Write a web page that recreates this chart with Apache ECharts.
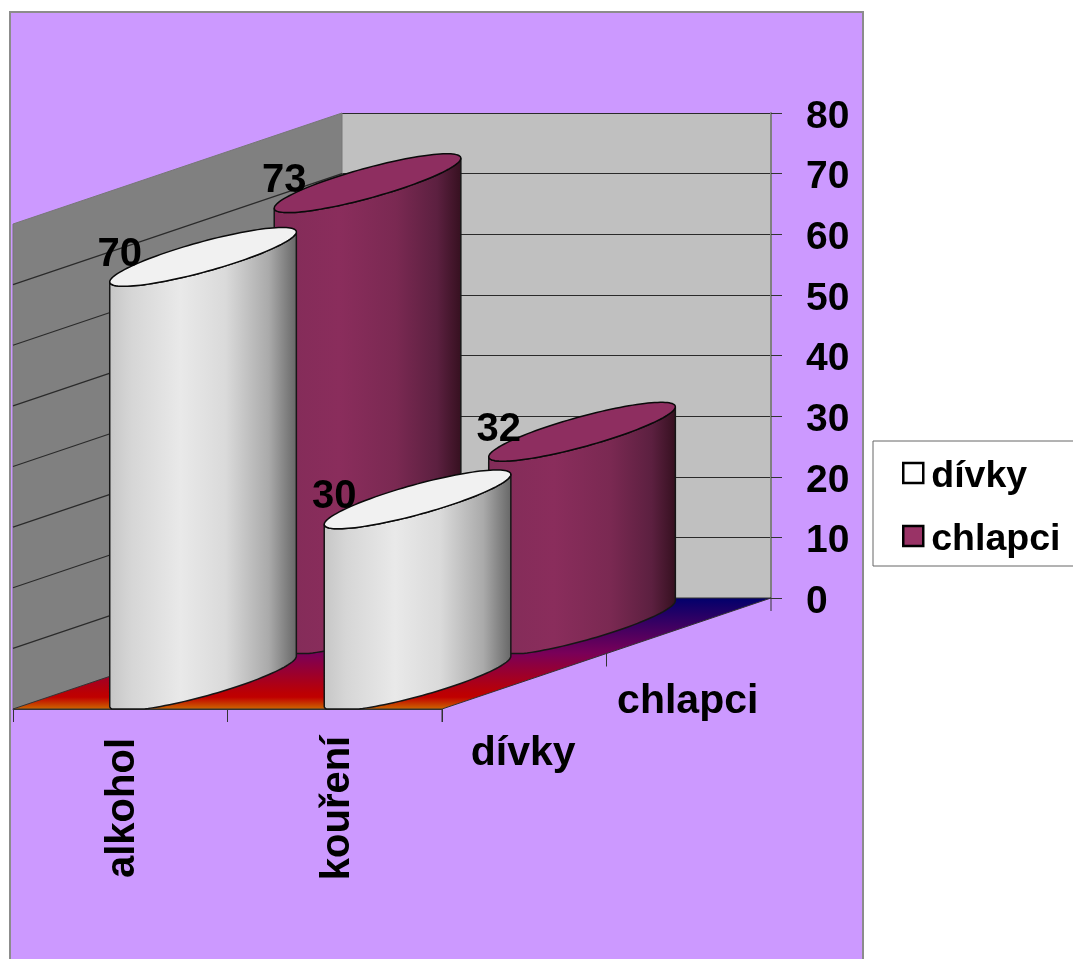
<!DOCTYPE html>
<html>
<head>
<meta charset="utf-8">
<title>alkohol a kouření</title>
<script src="https://cdn.jsdelivr.net/npm/echarts@6/dist/echarts.min.js"></script>
<style>
html,body{margin:0;padding:0;background:#fff;overflow:hidden}
#chart{width:1073px;height:959px}
</style>
</head>
<body>
<div id="chart"></div>
<script>
// Chart data
const categories = ['alkohol', 'kouření'];
const rowNames = ['dívky', 'chlapci'];
const divkyValues = [70, 30];
const chlapciValues = [73, 32];
const valueTicks = [0, 10, 20, 30, 40, 50, 60, 70, 80];

// Oblique projection: the back wall is the cartesian grid, rows come forward from it
const FONT = '"Liberation Sans", Arial, sans-serif';
const DEPTH_SHIFT_X = -329, DEPTH_SHIFT_Y = 111;
const ROWS = rowNames.length;

function project(api, cat, depth, value) {
  const p = api.coord([cat, value]);
  const f = (ROWS - depth) / ROWS;
  return [p[0] + f * DEPTH_SHIFT_X, p[1] + f * DEPTH_SHIFT_Y];
}

const { LinearGradient } = echarts.graphic;
const whiteBody = new LinearGradient(0, 0, 1, 0, [
  { offset: 0, color: '#c6c6c6' }, { offset: 0.12, color: '#d6d6d6' },
  { offset: 0.38, color: '#e9e9e9' }, { offset: 0.62, color: '#dadada' },
  { offset: 0.85, color: '#aaaaaa' }, { offset: 1, color: '#666666' }
]);
const maroonBody = new LinearGradient(0, 0, 1, 0, [
  { offset: 0, color: '#822c58' }, { offset: 0.35, color: '#8a2d5c' },
  { offset: 0.65, color: '#7a2952' }, { offset: 0.87, color: '#5c2040' },
  { offset: 1, color: '#35101f' }
]);
const floorFill = new LinearGradient(0, 0, 0, 1, [
  { offset: 0, color: '#00006c' }, { offset: 0.5, color: '#7a0058' },
  { offset: 0.85, color: '#bb0004' }, { offset: 0.89, color: '#c00000' },
  { offset: 1, color: '#cc6a00' }
]);

// Cylinder cross-section, as a share of one category's width
const RADIUS_X = 0.435, TILT = 0.1166, THICKNESS = 0.0723, BAR_CENTER = 0.5025;

function cylinderItem(rowIndex, bodyFill, capFill) {
  return function (params, api) {
    const catIndex = api.value(0);
    const value = api.value(1);
    const catWidth = api.size([1, 0])[0];
    const rx = RADIUS_X * catWidth, tilt = TILT * catWidth, th = THICKNESS * catWidth;
    const c0 = project(api, catIndex + BAR_CENTER, rowIndex + 0.5, 0);
    const c1 = project(api, catIndex + BAR_CENTER, rowIndex + 0.5, value);
    const floorEdge = project(api, catIndex, rowIndex, 0)[1];

    const arc = (c, t) => [c[0] + rx * Math.cos(t), c[1] - tilt * Math.cos(t) + th * Math.sin(t)];
    const body = [], cap = [];
    const N = 60;
    for (let i = 0; i <= N; i++) {
      // front half of the base, cut off where the floor ends
      const p = arc(c0, Math.PI - Math.PI * i / N);
      body.push([p[0], Math.min(p[1], floorEdge)]);
    }
    for (let i = 0; i <= N; i++) body.push(arc(c1, Math.PI * i / N));
    for (let i = 0; i < N * 2; i++) cap.push(arc(c1, Math.PI * i / N));

    const leftTop = arc(c1, Math.PI);
    return {
      type: 'group',
      children: [
        { type: 'polygon', shape: { points: body },
          style: { fill: bodyFill, stroke: '#161616', lineWidth: 1.5 } },
        { type: 'polygon', shape: { points: cap },
          style: { fill: capFill, stroke: '#0a0a0a', lineWidth: 1.5 } },
        { type: 'text', z2: 10,
          style: { text: String(value), x: leftTop[0] + 10, y: leftTop[1] - 27,
            align: 'center', verticalAlign: 'middle', fill: '#000',
            font: 'bold 40px ' + FONT } }
      ]
    };
  };
}

// Side wall, floor, wall gridlines, depth ticks and row names
function frameItem(params, api) {
  const wallTop = valueTicks[valueTicks.length - 1];
  const children = [];
  children.push({ type: 'polygon',
    shape: { points: [project(api, 0, 0, 0), project(api, 0, 0, wallTop),
                      project(api, 0, ROWS, wallTop), project(api, 0, ROWS, 0)] },
    style: { fill: '#808080', stroke: '#777777', lineWidth: 1 } });
  valueTicks.slice(1, -1).forEach(v => {
    const a = project(api, 0, 0, v), b = project(api, 0, ROWS, v);
    children.push({ type: 'line', shape: { x1: a[0], y1: a[1], x2: b[0], y2: b[1] },
      style: { stroke: '#2a2a2a', lineWidth: 1.2 } });
  });
  children.push({ type: 'polygon',
    shape: { points: [project(api, 0, 0, 0), project(api, categories.length, 0, 0),
                      project(api, categories.length, ROWS, 0), project(api, 0, ROWS, 0)] },
    style: { fill: floorFill, stroke: '#333333', lineWidth: 1 } });
  for (let r = 0; r <= ROWS; r++) {
    const p = project(api, categories.length, r, 0);
    children.push({ type: 'line', shape: { x1: p[0], y1: p[1], x2: p[0], y2: p[1] + 13 },
      style: { stroke: '#333333', lineWidth: 1 } });
  }
  rowNames.forEach((name, r) => {
    const p = project(api, categories.length, r + 0.5, 0);
    children.push({ type: 'text',
      style: { text: name, x: p[0] - 1, y: p[1] + 72 + r * 4, align: 'center', verticalAlign: 'middle',
        fill: '#000', font: 'bold 41px ' + FONT } });
  });
  return { type: 'group', children };
}

const chart = echarts.init(document.getElementById('chart'), null, { renderer: 'canvas' });
chart.setOption({
  animation: false,
  backgroundColor: '#ffffff',
  graphic: [{
    type: 'rect', z: -10, silent: true,
    shape: { x: 10, y: 12, width: 853, height: 960 },
    style: { fill: '#cc99ff', stroke: '#8c8c8c', lineWidth: 2 }
  }],
  grid: [
    { left: 342, top: 113, width: 429, height: 485, show: true, backgroundColor: '#c0c0c0', borderWidth: 0 },
    { left: 13, top: 699, width: 429, height: 10, show: false }
  ],
  xAxis: [
    { gridIndex: 0, type: 'value', min: 0, max: categories.length, show: false },
    { gridIndex: 1, type: 'category', data: categories, position: 'bottom',
      axisLine: { show: true, lineStyle: { color: '#333333', width: 1 } },
      axisTick: { show: true, length: 13, alignWithLabel: false, lineStyle: { color: '#333333' } },
      axisLabel: { rotate: 90, margin: 99, align: 'center', verticalAlign: 'middle', interval: 0,
        formatter: '{c|{value}}',
        rich: { c: { color: '#000', fontFamily: FONT, fontWeight: 'bold', fontSize: 40, padding: [6, 0, 0, 0] } } } }
  ],
  yAxis: [
    { gridIndex: 0, type: 'value', position: 'right', min: 0, max: 80, interval: 10,
      axisLine: { show: true, onZero: false, lineStyle: { color: '#808080', width: 2 } },
      axisTick: { show: true, length: 11, lineStyle: { color: '#333333', width: 1 } },
      splitLine: { show: true, lineStyle: { color: '#2a2a2a', width: 1.2 } },
      axisLabel: { margin: 35, formatter: '{v|{value}}',
        rich: { v: { color: '#000', fontFamily: FONT, fontWeight: 'bold', fontSize: 39, padding: [8, 0, 0, 0] } } } },
    { gridIndex: 1, type: 'value', show: false }
  ],
  legend: {
    orient: 'vertical', left: 873, top: 441, selectedMode: false,
    backgroundColor: '#ffffff', borderColor: '#666666', borderWidth: 1,
    padding: [17, 30, 7, 29], itemGap: 25, itemWidth: 20, itemHeight: 20, icon: 'rect',
    formatter: name => '{t|' + name + '}',
    textStyle: { rich: { t: { color: '#000', fontFamily: FONT, fontWeight: 'bold', fontSize: 37.5, padding: [8, 0, 0, 3] } } },
    data: [
      { name: rowNames[0], itemStyle: { color: '#ffffff', borderColor: '#000', borderWidth: 2.5 } },
      { name: rowNames[1], itemStyle: { color: '#993366', borderColor: '#000', borderWidth: 2.5 } }
    ]
  },
  series: [
    { type: 'custom', name: 'frame', z: 1, silent: true, xAxisIndex: 0, yAxisIndex: 0,
      renderItem: frameItem, data: [[0, 0]], encode: { x: 0, y: 1 } },
    { type: 'custom', name: rowNames[1], z: 3, xAxisIndex: 0, yAxisIndex: 0,
      itemStyle: { color: '#993366' },
      renderItem: cylinderItem(1, maroonBody, '#8e2e60'),
      data: chlapciValues.map((v, i) => [i, v]), encode: { x: 0, y: 1 } },
    { type: 'custom', name: rowNames[0], z: 4, xAxisIndex: 0, yAxisIndex: 0,
      itemStyle: { color: '#ffffff' },
      renderItem: cylinderItem(0, whiteBody, '#f1f1f1'),
      data: divkyValues.map((v, i) => [i, v]), encode: { x: 0, y: 1 } }
  ]
});
</script>
</body>
</html>
